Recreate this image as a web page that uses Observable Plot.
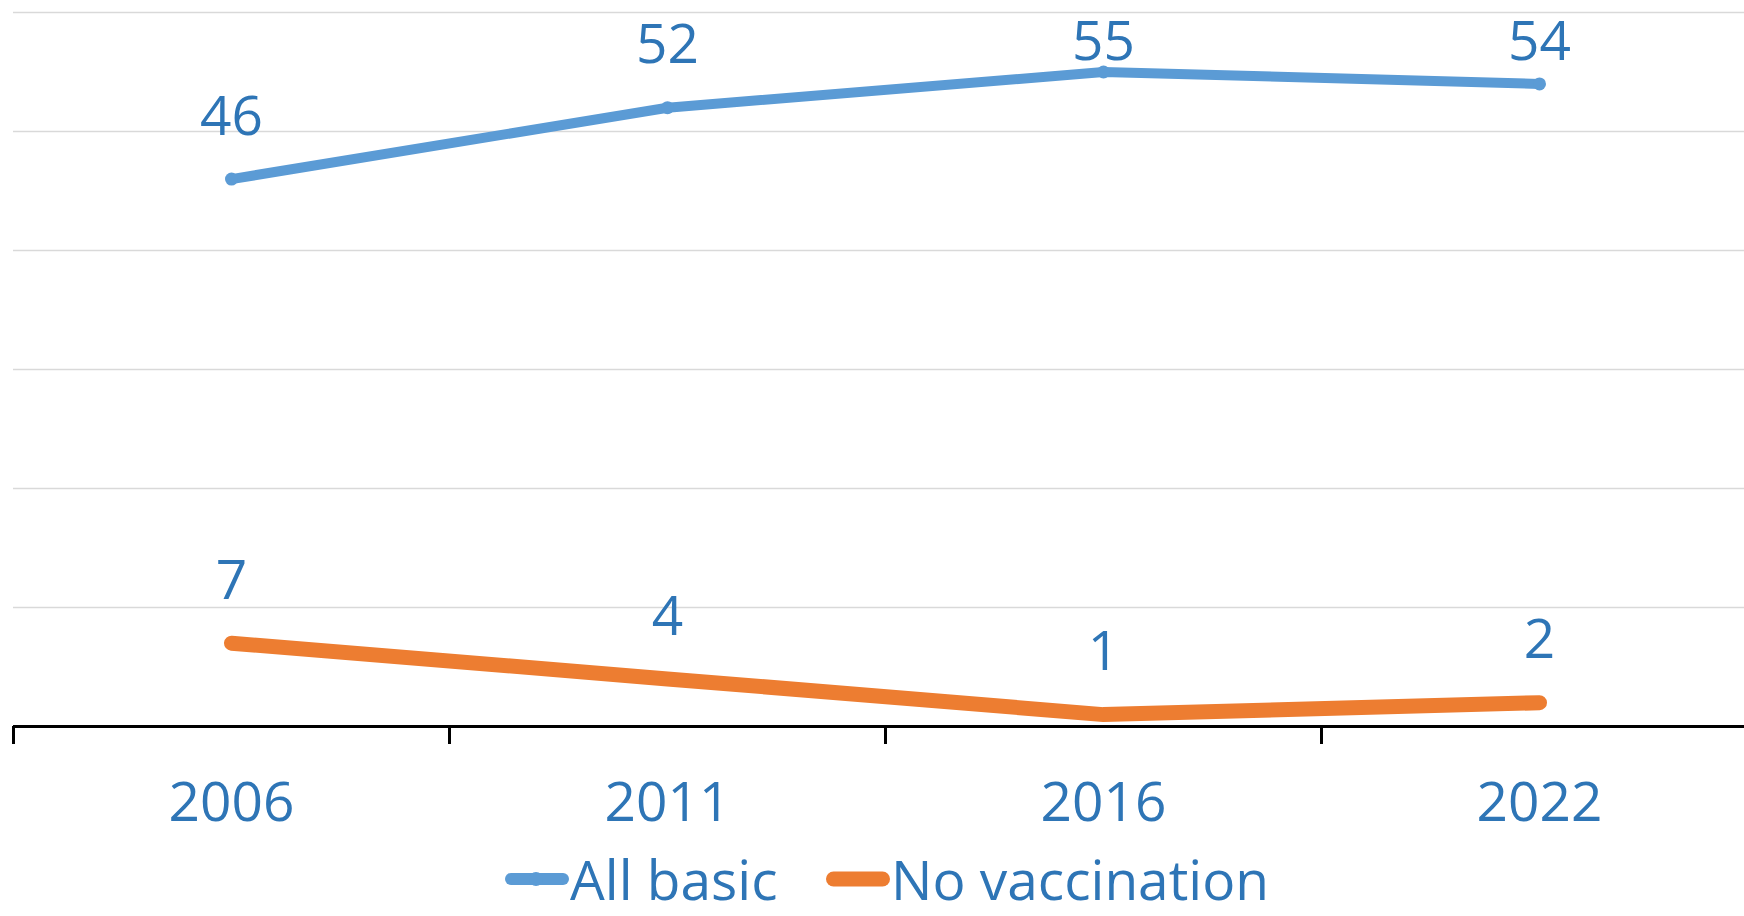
<!DOCTYPE html>
<html>
<head>
<meta charset="utf-8">
<script src="https://cdn.jsdelivr.net/npm/d3@7"></script>
<script src="https://cdn.jsdelivr.net/npm/@observablehq/plot@0.6"></script>
<style>
  html, body { margin: 0; padding: 0; background: #fff; }
  body { width: 1744px; height: 916px; position: relative; overflow: hidden; font-family: "Open Sans", sans-serif; }
  #legend .item { position: absolute; top: 851px; height: 56px; line-height: 56px; display: flex; align-items: center; font-size: 55px; color: #2E75B6; white-space: nowrap; }
  #legend svg { display: block; }
</style>
</head>
<body>
<div id="chart"></div>
<div id="legend"></div>
<script>
const years = ["2006", "2011", "2016", "2022"];
const allBasic = [46, 52, 55, 54];
const noVaccination = [7, 4, 1, 2];
const seriesNames = ["All basic", "No vaccination"];
const gridValues = [10, 20, 30, 40, 50, 60];
const tickBoundaries = [-0.5, 0.5, 1.5, 2.5, 3.5];

const blue = "#5B9BD5";
const orange = "#ED7D31";
const labelColor = "#2E75B6";

// label placement (in y units): above the point, but kept inside the plot area like Excel does
const labelLift = 5.21;
const labelCeiling = 57.5;

const rowsBasic = years.map((year, i) => ({i, year, value: allBasic[i], series: seriesNames[0]}));
const rowsNone = years.map((year, i) => ({i, year, value: noVaccination[i], series: seriesNames[1]}));
const labelY = d => Math.min(d.value + labelLift, labelCeiling);

const chart = Plot.plot({
  width: 1744,
  height: 851,
  marginLeft: 13,
  marginRight: 0,
  marginTop: 12,
  marginBottom: 125,
  style: {fontFamily: "Open Sans, sans-serif", background: "#fff", overflow: "hidden"},
  x: {type: "linear", domain: [-0.5, 3.5], range: [13, 1757], axis: null, label: null},
  y: {domain: [0, 60], axis: null, label: null},
  marks: [
    Plot.ruleY(gridValues, {stroke: "#D9D9D9", strokeWidth: 1.6}),
    Plot.ruleY([0], {stroke: "#000", strokeWidth: 3}),
    Plot.axisX({ticks: tickBoundaries, tickSize: 18, tickFormat: () => "", label: null, stroke: "#000", strokeWidth: 3, strokeOpacity: 1, tickPadding: 0}),
    Plot.line(rowsBasic, {x: "i", y: "value", stroke: blue, strokeWidth: 10, strokeLinecap: "round", strokeLinejoin: "round"}),
    Plot.dot(rowsBasic, {x: "i", y: "value", r: 6.5, fill: blue, stroke: "none"}),
    Plot.line(rowsNone, {x: "i", y: "value", stroke: orange, strokeWidth: 15, strokeLinecap: "round", strokeLinejoin: "round"}),
    Plot.text(rowsBasic, {x: "i", y: labelY, text: d => String(d.value), lineAnchor: "middle", fontSize: 55, fill: labelColor}),
    Plot.text(rowsNone, {x: "i", y: labelY, text: d => String(d.value), lineAnchor: "middle", fontSize: 55, fill: labelColor}),
    Plot.text(rowsBasic, {x: "i", y: () => 0, text: "year", dy: 77, lineAnchor: "middle", fontSize: 55, fill: labelColor})
  ]
});
document.getElementById("chart").appendChild(chart);

// Legend
const legend = document.getElementById("legend");
const legendItems = [
  {name: seriesNames[0], color: blue, width: 12, marker: true, left: 504},
  {name: seriesNames[1], color: orange, width: 15, marker: false, left: 825}
];
for (const it of legendItems) {
  const div = document.createElement("div");
  div.className = "item";
  div.style.left = it.left + "px";
  const ns = "http://www.w3.org/2000/svg";
  const sw = document.createElementNS(ns, "svg");
  sw.setAttribute("width", 66);
  sw.setAttribute("height", 20);
  const ln = document.createElementNS(ns, "line");
  ln.setAttribute("x1", it.width / 2 + 1);
  ln.setAttribute("x2", 66 - it.width / 2 - 1);
  ln.setAttribute("y1", 10);
  ln.setAttribute("y2", 10);
  ln.setAttribute("stroke", it.color);
  ln.setAttribute("stroke-width", it.width);
  ln.setAttribute("stroke-linecap", "round");
  sw.appendChild(ln);
  if (it.marker) {
    const c = document.createElementNS(ns, "circle");
    c.setAttribute("cx", 32);
    c.setAttribute("cy", 10);
    c.setAttribute("r", 7);
    c.setAttribute("fill", it.color);
    sw.appendChild(c);
  }
  div.appendChild(sw);
  const span = document.createElement("span");
  span.textContent = it.name;
  div.appendChild(span);
  legend.appendChild(div);
}
</script>
</body>
</html>
